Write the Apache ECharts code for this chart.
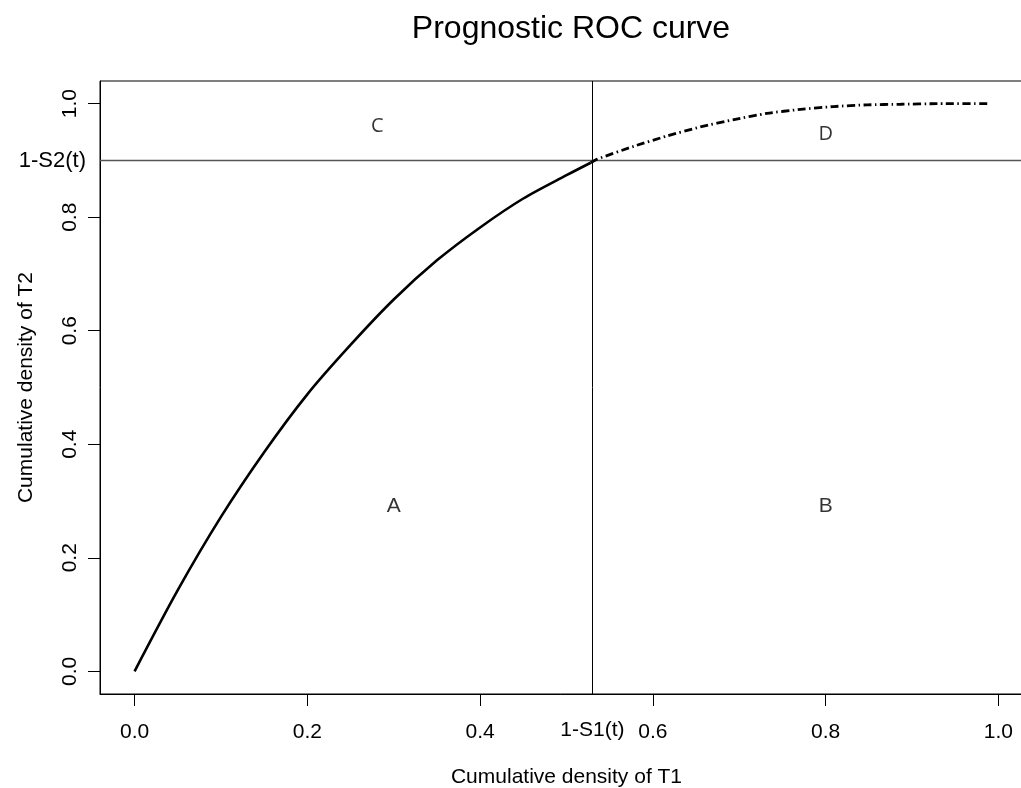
<!DOCTYPE html>
<html>
<head>
<meta charset="utf-8">
<script src="https://cdn.jsdelivr.net/npm/echarts@6/dist/echarts.min.js"></script>
<style>
  html, body { margin: 0; padding: 0; background: #fff; }
  #chart { width: 1021px; height: 788px; }
</style>
</head>
<body>
<div id="chart"></div>
<script>
// Prognostic ROC curve: cumulative density of T1 vs T2
// Solid part of the curve, up to the cut-off 1-S1(t)
const solidX = [0, 0.05, 0.10, 0.15, 0.20, 0.25, 0.30, 0.35, 0.40, 0.45, 0.50, 0.528];
const solidY = [0, 0.143, 0.272, 0.386, 0.488, 0.575, 0.655, 0.724, 0.782, 0.833, 0.874, 0.896];
// Dot-dash continuation beyond the cut-off
const dashX = [0.528, 0.535, 0.578, 0.616, 0.655, 0.694, 0.732, 0.771, 0.809, 0.848, 0.887, 0.929, 0.990];
const dashY = [0.896, 0.902, 0.925, 0.943, 0.959, 0.972, 0.983, 0.990, 0.995, 0.998, 0.999, 1.000, 1.000];
// Cut-off values
const cutS1 = 0.528;  // 1-S1(t)
const cutS2 = 0.896;  // 1-S2(t)
// Axis ticks
const tickValues = [0, 0.2, 0.4, 0.6, 0.8, 1.0];
const tickLabels = ['0.0', '0.2', '0.4', '0.6', '0.8', '1.0'];
// Region letters
const regionNames = ['A', 'B', 'C', 'D'];
const regionX = [0.30, 0.80, 0.281, 0.80];
const regionY = [0.29, 0.29, 0.960, 0.946];

const FONT = '"Liberation Sans", Arial, sans-serif';
const zip = (xs, ys) => xs.map((v, i) => [v, ys[i]]);
const labelFor = v => tickLabels[tickValues.findIndex(t => Math.abs(t - v) < 1e-9)] ?? '';

const chart = echarts.init(document.getElementById('chart'), null, { renderer: 'canvas' });

const axisCommon = {
  type: 'value',
  min: -0.04,
  max: 1.04,
  splitLine: { show: false },
  axisLine: { show: true, onZero: false, lineStyle: { color: '#000', width: 1 } },
  axisTick: { show: true, inside: false, length: 12, customValues: tickValues, lineStyle: { color: '#000', width: 1 } },
  nameLocation: 'middle',
  nameTextStyle: { color: '#000', fontSize: 21, fontFamily: FONT }
};

chart.setOption({
  animation: false,
  backgroundColor: '#fff',
  title: {
    text: 'Prognostic ROC curve',
    left: 566,
    top: 8,
    textAlign: 'center',
    textStyle: { color: '#000', fontSize: 32, fontWeight: 'normal', fontFamily: FONT }
  },
  grid: {
    left: 100, top: 81, width: 933, height: 613,
    outerBoundsMode: 'none',
    containLabel: false,
    show: true, borderColor: '#000', borderWidth: 1, backgroundColor: 'transparent'
  },
  xAxis: Object.assign({}, axisCommon, {
    name: 'Cumulative density of T1',
    nameGap: 73,
    axisLabel: {
      customValues: tickValues, formatter: labelFor, margin: 28,
      color: '#000', fontSize: 21, fontFamily: FONT
    }
  }),
  yAxis: Object.assign({}, axisCommon, {
    name: 'Cumulative density of T2',
    nameGap: 63,
    axisLabel: {
      customValues: tickValues, formatter: labelFor, margin: 19, rotate: 90,
      color: '#000', fontSize: 21, fontFamily: FONT
    }
  }),
  series: [
    {
      type: 'line',
      data: zip(solidX, solidY),
      showSymbol: false,
      smooth: 0.3,
      lineStyle: { color: '#000', width: 2.6, type: 'solid' },
      z: 5,
      markLine: {
        silent: true,
        symbol: ['none', 'none'],
        animation: false,
        data: [
          {
            xAxis: cutS1,
            lineStyle: { color: '#000', width: 1, type: 'solid' },
            label: { show: true, position: 'start', formatter: '1-S1(t)', distance: 26,
                     color: '#000', fontSize: 21, fontFamily: FONT }
          },
          {
            yAxis: cutS2,
            lineStyle: { color: '#555', width: 1.3, type: 'solid' },
            label: { show: true, position: 'start', formatter: '1-S2(t)', distance: 14,
                     color: '#000', fontSize: 22, fontFamily: FONT }
          }
        ]
      }
    },
    {
      type: 'line',
      data: zip(dashX, dashY),
      showSymbol: false,
      smooth: 0.2,
      lineStyle: { color: '#000', width: 2.8, type: [8, 3.5, 1.5, 3.5] },
      z: 5
    },
    {
      type: 'scatter',
      symbolSize: 0,
      silent: true,
      data: regionNames.map((n, i) => ({
        name: n,
        value: [regionX[i], regionY[i]],
        label: {
          color: '#000',
          fontFamily: (n === 'C' || n === 'D') ? '"Open Sans", sans-serif' : FONT,
          fontSize: (n === 'C' || n === 'D') ? 20 : 21
        }
      })),
      label: {
        show: true, position: 'inside', formatter: p => p.name,
        color: '#000', textBorderWidth: 0, textShadowBlur: 0
      }
    }
  ]
});
</script>
</body>
</html>
